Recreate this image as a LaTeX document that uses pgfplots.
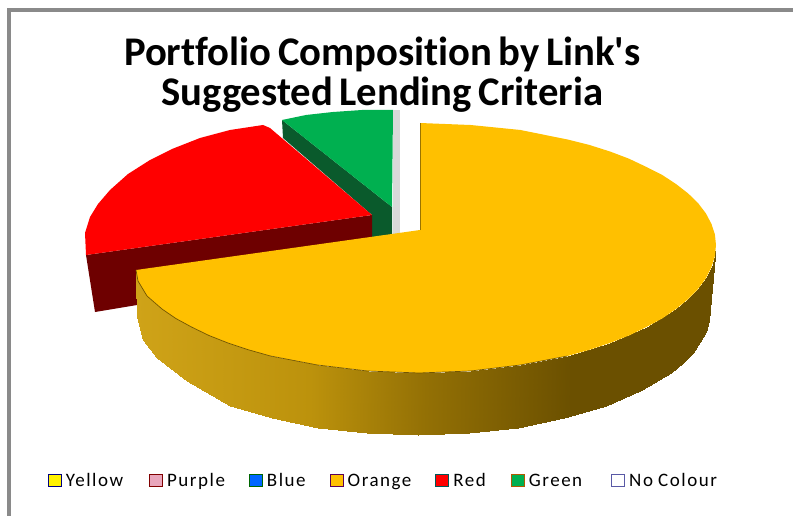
\documentclass[border=0pt]{standalone}
\usepackage{fontspec}
\setmainfont{Carlito}
\newfontfamily\titlefont{Carlito}[Ligatures=NoCommon, WordSpace=0.7]
\newfontfamily\legendfont{Carlito}[Ligatures=NoCommon, LetterSpace=8, WordSpace=0.9]
\usepackage{pgfplots}
\pgfplotsset{compat=1.18}

\definecolor{cOrange}{HTML}{FFC000}
\definecolor{cRed}{HTML}{FF0000}
\definecolor{cRedDark}{HTML}{6E0000}
\definecolor{cGreen}{HTML}{00B050}
\definecolor{cGreenDark}{HTML}{0A5A2C}
\definecolor{cFrame}{HTML}{8A8A8A}
\definecolor{rimA}{HTML}{CFA318}
\definecolor{rimB}{HTML}{BC920C}
\definecolor{rimC}{HTML}{937005}
\definecolor{rimD}{HTML}{6B5000}

\pgfplotsset{colormap={rim}{
    color(0cm)=(rimA)
    color(3cm)=(rimB)
    color(5cm)=(rimC)
    color(7.5cm)=(rimD)
    color(10cm)=(rimD)}}

\begin{document}
\begin{tikzpicture}
\useasboundingbox (0,0) rectangle (793pt,516pt);
\begin{axis}[
    at={(0,0)}, anchor=south west,
    width=793pt, height=516pt, scale only axis,
    xmin=0, xmax=793, ymin=0, ymax=516,
    y dir=reverse,
    axis lines=none,
    clip=false,
    title={Portfolio Composition by Link's\\Suggested Lending Criteria},
    title style={at={(0.482,0.923)}, anchor=north, align=center,
      font=\fontsize{40.7}{40}\titlefont\bfseries},
    legend style={at={(0.0605,0.068)}, anchor=west, draw=none, fill=none,
      legend columns=-1, font=\fontsize{19}{20}\legendfont,
      inner sep=0pt, outer sep=0pt,
      /tikz/every even column/.append style={column sep=0pt}},
    legend image code/.code={
      \draw[#1] (0pt,-6pt) rectangle (13pt,6pt);},
    ]

    % frame
    \addplot[cFrame, line width=4pt, forget plot] coordinates {(9,516) (9,10) (793,10)};

    % green slice
    \addplot[fill=cGreenDark, draw=none, forget plot] coordinates
    {(282,120) (392,207) (392,240) (372,240) (372,215) (283,138)} -- cycle;
    \addplot[fill=cGreen, draw=none, forget plot] coordinates
    {(282,120) (306,115) (333,112) (362,110) (393,110) (392,207)} -- cycle;

    % no colour slice
    \addplot[fill=gray!30, draw=none, forget plot] coordinates
    {(393,110) (400,110) (400,238) (393,238)} -- cycle;

    % red slice
    \addplot[fill=cRedDark, draw=none, forget plot] coordinates
    {(86,255) (372,215) (372,240) (137,275) (137,305) (95,312)} -- cycle;
    \addplot[fill=cRed, draw=none, forget plot] coordinates
    {(372,215) (270,128) (263,125) (230,130) (200,138) (172,149) (150,160) (128,174)
     (110,190) (98,204) (90,217) (85,233) (86,255)} -- cycle;

    % orange rim
    \addplot[surf, shader=interp, mesh/rows=2, point meta=x, colormap name=rim, forget plot]
    table {
      x y
      716 245
      714.9 256.2
      711.5 267
      705.9 278.2
      698 289
      688.1 299.1
      676 309
      646.5 327
      610 343
      567.5 356
      520.5 365
      470.5 371
      419 373
      367.5 371
      317.5 365
      270.5 356
      228 343
      191.5 327
      162 309
      147 296
      138 281
      136 270
      710 310
      709 321
      705.5 332
      700 342
      692.5 353
      682.6 363
      671 372.5
      642 390
      606 406
      564 418
      518 427.5
      469 433
      418 435
      367 433
      318 427.5
      272 418
      230 406
      187 381
      157 358
      143 340
      137 317
      136 280
    };

    % orange top
    \addplot[fill=cOrange, draw=none, forget plot] coordinates
    {(420,230) (420,123) (470.5,125) (520.5,130) (567.5,139.5) (589.5,145) (610,151.5) (629,158.7)
     (646.5,167) (662.3,175) (676,184) (688.1,193.4) (698,203) (705.9,213.4) (711.5,224) (714.9,234.4)
     (716,245) (714.9,256.2) (711.5,267) (705.9,278.2) (698,289) (688.1,299.1) (676,309) (662.3,318.4)
     (646.5,327) (629,335.5) (610,343) (589.5,349.8) (567.5,356) (520.5,365) (470.5,371) (419,373)
     (367.5,371) (317.5,365) (270.5,356) (248.5,349.8) (228,343) (209,335.5) (191.5,327) (175.7,318.4)
     (162,309) (147,296) (138,281) (136,270)} -- cycle;
    % dark edge of the orange slice
    \addplot[color=cOrange!60!black, line width=0.7pt, forget plot] coordinates
    {(420,230) (420,123)};
    \addplot[color=cOrange!45!black, line width=0.7pt, forget plot] coordinates
    {(136,270) (138,281) (147,296) (162,309) (175.7,318.4) (191.5,327) (209,335.5) (228,343) (248.5,349.8) (270.5,356)
     (317.5,365) (367.5,371) (419,373) (470.5,371) (520.5,365) (567.5,356)};

    % legend
    \addlegendimage{fill=yellow, draw=blue!50!black, line width=1pt}
    \addlegendentry{\hspace{2pt}Yellow\hspace{24pt}\mbox{}}
    \addlegendimage{fill=purple!35!white, draw=red!50!black, line width=1pt}
    \addlegendentry{\hspace{2pt}Purple\hspace{22pt}\mbox{}}
    \addlegendimage{fill=blue!60!cyan, draw=green!40!black, line width=1pt}
    \addlegendentry{\hspace{2pt}Blue\hspace{22pt}\mbox{}}
    \addlegendimage{fill=cOrange, draw=violet!70!black, line width=1pt}
    \addlegendentry{\hspace{2pt}Orange\hspace{22pt}\mbox{}}
    \addlegendimage{fill=cRed, draw=teal!70!black, line width=1pt}
    \addlegendentry{\hspace{2pt}Red\hspace{23pt}\mbox{}}
    \addlegendimage{fill=cGreen, draw=orange!70!black, line width=1pt}
    \addlegendentry{\hspace{2pt}Green\hspace{27pt}\mbox{}}
    \addlegendimage{fill=white, draw=blue!30!gray, line width=1pt}
    \addlegendentry{\hspace{2pt}No Colour}
\end{axis}
\end{tikzpicture}
\end{document}
